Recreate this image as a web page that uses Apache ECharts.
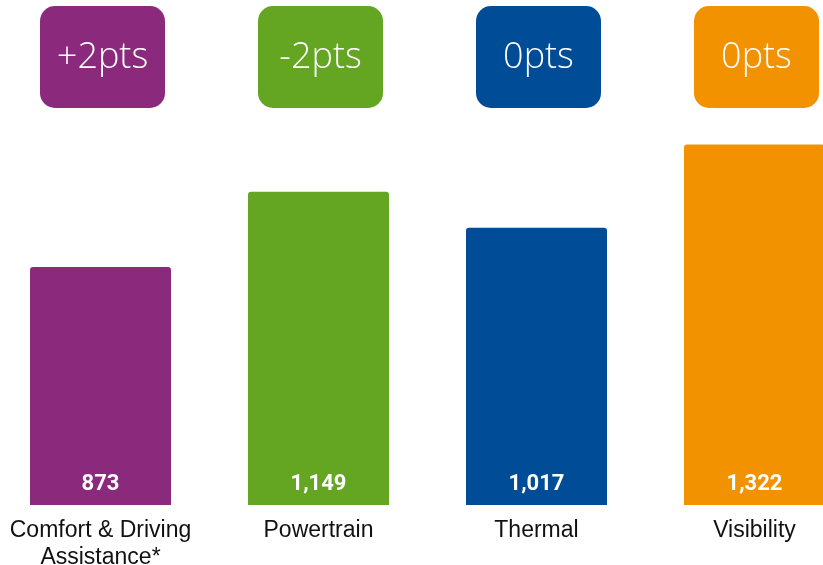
<!DOCTYPE html>
<html>
<head>
<meta charset="utf-8">
<script src="https://cdn.jsdelivr.net/npm/echarts@6/dist/echarts.min.js"></script>
<style>
html,body{margin:0;padding:0;background:#fff;}
#chart{width:823px;height:565px;}
</style>
</head>
<body>
<div id="chart"></div>
<script>
const categories = ['Comfort & Driving\nAssistance*', 'Powertrain', 'Thermal', 'Visibility'];
const values = [873, 1149, 1017, 1322];
const changes = ['+2pts', '-2pts', '0pts', '0pts'];
const colors = ['#8B2A7C', '#64A522', '#004C97', '#F29200'];

const chart = echarts.init(document.getElementById('chart'));
chart.setOption({
  animation: false,
  grid: { left: -8.5, right: -40.5, top: 96, bottom: 60, containLabel: false, outerBoundsMode: 'none' },
  xAxis: {
    type: 'category',
    data: categories,
    axisLine: { show: false },
    axisTick: { show: false },
    axisLabel: {
      color: '#111',
      fontFamily: 'Liberation Sans, Arial, sans-serif',
      fontSize: 23,
      lineHeight: 27,
      margin: 12,
      interval: 0,
      hideOverlap: false
    }
  },
  yAxis: { type: 'value', min: 0, max: 1500, show: false, splitLine: { show: false } },
  series: [
    {
      type: 'bar',
      barWidth: 141,
      data: values.map((v, i) => ({ value: v, itemStyle: { color: colors[i] } })),
      itemStyle: { borderRadius: [3, 3, 0, 0] },
      label: {
        show: true,
        position: 'insideBottom',
        distance: 10,
        color: '#fff',
        fontFamily: 'Roboto, sans-serif',
        fontWeight: 'bold',
        fontSize: 22,
        formatter: p => p.value.toLocaleString('en-US')
      }
    },
    {
      type: 'custom',
      data: changes.map((c, i) => [i, 0]),
      renderItem: function (params, api) {
        const idx = params.dataIndex;
        const cx = api.coord([api.value(0), 0])[0] + 2;
        const w = 125, h = 102, top = 6;
        return {
          type: 'group',
          children: [
            {
              type: 'rect',
              shape: { x: cx - w / 2, y: top, width: w, height: h, r: 15 },
              style: { fill: colors[idx] }
            },
            {
              type: 'text',
              style: {
                x: cx,
                y: top + h / 2 + 1,
                text: changes[idx],
                fill: '#fff',
                font: '300 36px "Open Sans", sans-serif',
                align: 'center',
                verticalAlign: 'middle'
              }
            }
          ]
        };
      }
    }
  ]
});
</script>
</body>
</html>
